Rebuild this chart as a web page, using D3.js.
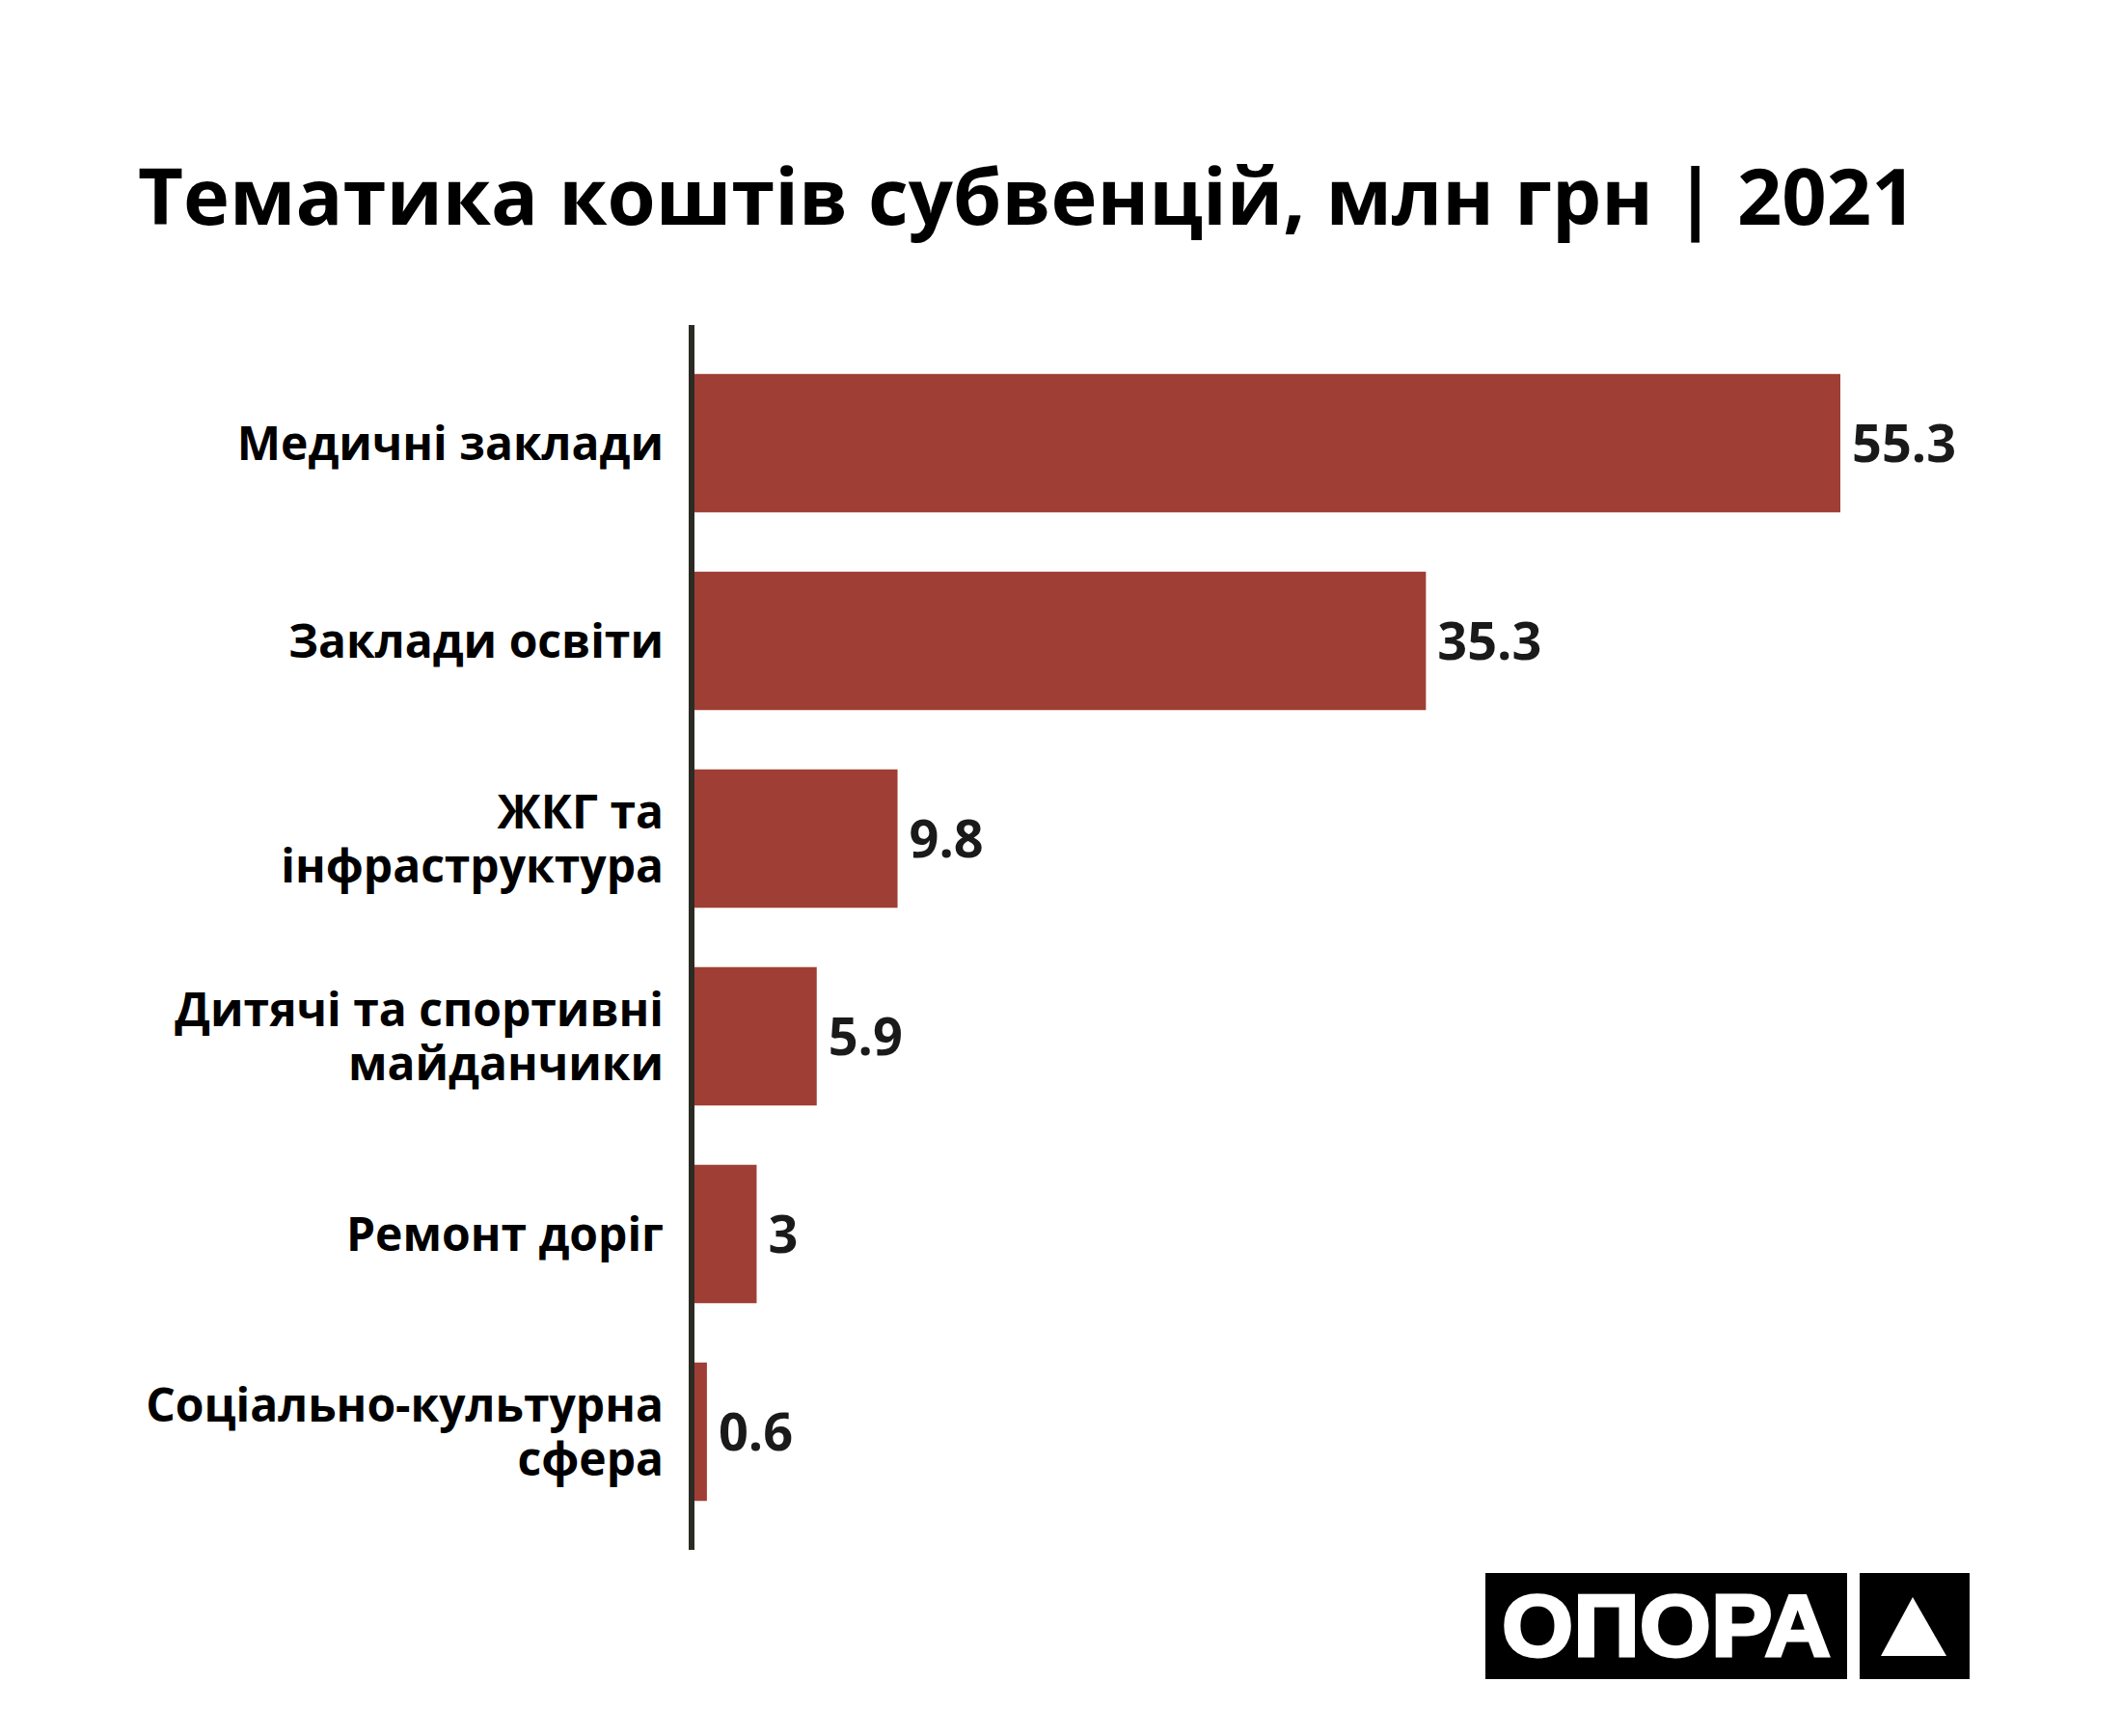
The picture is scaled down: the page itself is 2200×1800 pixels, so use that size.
<!DOCTYPE html>
<html>
<head>
<meta charset="utf-8">
<style>
body {
  margin: 0;
  background: #fff;
}
svg {
  display: block;
  font-family: "Open Sans", "Noto Sans", sans-serif;
}
.cat-label {
  font-weight: 700;
  fill: #000;
}
.value-label {
  font-weight: 700;
  fill: #1a1a1a;
}
</style>
</head>
<body>
<svg width="2200" height="1800"></svg>
<script src="https://d3js.org/d3.v7.min.js"></script>
<script>
// Subvention topics, million UAH, 2021
var categories = [
  "Медичні заклади",
  "Заклади освіти",
  "ЖКГ та інфраструктура",
  "Дитячі та спортивні майданчики",
  "Ремонт доріг",
  "Соціально-культурна сфера"
];
// how each category label wraps on the left
var labelLines = [
  ["Медичні заклади"],
  ["Заклади освіти"],
  ["ЖКГ та", "інфраструктура"],
  ["Дитячі та спортивні", "майданчики"],
  ["Ремонт доріг"],
  ["Соціально-культурна", "сфера"]
];
var values = [55.3, 35.3, 9.8, 5.9, 3, 0.6];

var titleText = "Тематика коштів субвенцій, млн грн | 2021";
var logoText = "ОПОРА";

var svg = d3.select("svg"),
    width = +svg.attr("width"),
    height = +svg.attr("height");

svg.append("rect")
    .attr("width", width)
    .attr("height", height)
    .attr("fill", "#fff");

var axisX = 717,
    axisTop = 337,
    axisBottom = 1607;

var x = d3.scaleLinear()
    .domain([0, d3.max(values)])
    .range([axisX + 3, 1908]);

var y = d3.scaleBand()
    .domain(categories)
    .range([axisTop, axisBottom])
    .paddingInner(0.3)
    .paddingOuter(0.2476);

// title, stretched to the width it has in the original
var title = svg.append("text")
    .attr("x", 143)
    .attr("y", 233)
    .style("font-weight", 700)
    .style("font-size", "84px")
    .attr("fill", "#000")
    .text(titleText);
var tw = title.node().getComputedTextLength();
title.style("font-size", (84 * 1844 / tw) + "px");

// bars
svg.append("g")
  .selectAll("rect")
  .data(values)
  .enter().append("rect")
    .attr("x", x(0))
    .attr("y", function(d, i) { return y(categories[i]); })
    .attr("width", function(d) { return x(d) - x(0); })
    .attr("height", y.bandwidth())
    .attr("fill", "#9f3e34");

// value labels
svg.append("g")
  .selectAll("text")
  .data(values)
  .enter().append("text")
    .attr("class", "value-label")
    .attr("x", function(d) { return x(d) + 12; })
    .attr("y", function(d, i) { return y(categories[i]) + y.bandwidth() / 2; })
    .attr("dy", "0.36em")
    .style("font-size", "54px")
    .text(function(d) { return d; });

// category labels
var labelSize = 48,
    lineHeight = 56;
var cat = svg.append("g")
  .selectAll("text")
  .data(categories)
  .enter().append("text")
    .attr("class", "cat-label")
    .attr("text-anchor", "end")
    .style("font-size", labelSize + "px");

cat.each(function(c, i) {
  var lines = labelLines[i],
      cy = y(c) + y.bandwidth() / 2,
      n = lines.length;
  d3.select(this).selectAll("tspan")
    .data(lines)
    .enter().append("tspan")
      .attr("x", 688)
      .attr("y", function(l, j) { return cy + (j - (n - 1) / 2) * lineHeight; })
      .attr("dy", "0.36em")
      .text(function(l) { return l; });
});

// vertical axis line
svg.append("line")
    .attr("x1", axisX)
    .attr("x2", axisX)
    .attr("y1", axisTop)
    .attr("y2", axisBottom)
    .attr("stroke", "#2b2b24")
    .attr("stroke-width", 6);

// logo
var logo = svg.append("g");
logo.append("rect")
    .attr("x", 1540).attr("y", 1631)
    .attr("width", 375).attr("height", 110)
    .attr("fill", "#000");
logo.append("rect")
    .attr("x", 1928).attr("y", 1631)
    .attr("width", 114).attr("height", 110)
    .attr("fill", "#000");
logo.append("text")
    .attr("x", 1557)
    .attr("y", 1717)
    .attr("textLength", 341)
    .attr("lengthAdjust", "spacingAndGlyphs")
    .style("font-family", "'Liberation Sans', Arial, sans-serif")
    .style("font-weight", 700)
    .style("font-size", "90px")
    .attr("fill", "#fff")
    .attr("stroke", "#fff")
    .attr("stroke-width", 3)
    .text(logoText);
logo.append("path")
    .attr("d", "M1983,1656 L2018,1717 L1950,1717 Z")
    .attr("fill", "#fff");
</script>
</body>
</html>
